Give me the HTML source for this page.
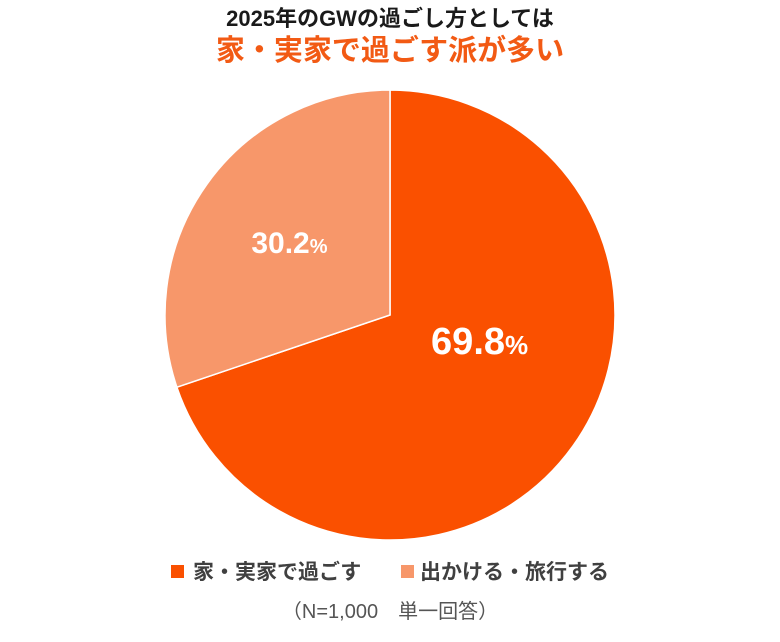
<!DOCTYPE html>
<html><head><meta charset="utf-8"><style>
body{margin:0;background:#fff;width:780px;height:642px;overflow:hidden;font-family:"Liberation Sans","Noto Sans CJK JP",sans-serif}
svg{display:block}
</style></head><body>
<svg width="780" height="642">
<text x="390" y="26" text-anchor="middle" font-size="22" font-weight="bold" fill="#1a1a1a">2025年のGWの過ごし方としては</text>
<text x="390" y="60" text-anchor="middle" font-size="29" font-weight="bold" fill="#F25A14">家・実家で過ごす派が多い</text>
<g id="slices"></g>
<g id="labels"></g>
<rect x="171" y="565" width="13" height="13" fill="#FA5000"/>
<text x="193" y="579" font-size="21" font-weight="bold" fill="#404040">家・実家で過ごす</text>
<rect x="401" y="565" width="13" height="13" fill="#F7976A"/>
<text x="420" y="579" font-size="21" font-weight="bold" fill="#404040">出かける・旅行する</text>
<text x="390" y="618" text-anchor="middle" font-size="20" fill="#555">（N=1,000　単一回答）</text>
</svg>
<script>
const categories=["家・実家で過ごす","出かける・旅行する"];
const values=[69.8,30.2];
const colors=["#FA5000","#F7976A"];
const cx=390,cy=315,r=225;
const ns="http://www.w3.org/2000/svg";
const total=values.reduce((a,b)=>a+b,0);
const slices=document.getElementById('slices'),labels=document.getElementById('labels');
function pt(a,rr){return [cx+rr*Math.sin(a),cy-rr*Math.cos(a)];}
let a0=0;
values.forEach((v,i)=>{
  const a1=a0+v/total*2*Math.PI;
  const p0=pt(a0,r),p1=pt(a1,r);
  const large=(a1-a0)>Math.PI?1:0;
  const p=document.createElementNS(ns,'path');
  p.setAttribute('d',`M${cx},${cy}L${p0[0]},${p0[1]}A${r},${r} 0 ${large} 1 ${p1[0]},${p1[1]}Z`);
  p.setAttribute('fill',colors[i]);
  p.setAttribute('stroke','#fff');
  p.setAttribute('stroke-width','1.5');
  
  
  slices.appendChild(p);
  const mid=(a0+a1)/2;
  const lp=pt(mid,i===0?r*0.49:r*0.55);
  const t=document.createElementNS(ns,'text');
  t.setAttribute('x',lp[0]);t.setAttribute('y',lp[1]+(i===0?-25:10));
  t.setAttribute('text-anchor','middle');t.setAttribute('fill','#fff');t.setAttribute('font-weight','bold');
  t.setAttribute('font-size',i===0?'38':'30');
  
  
  t.innerHTML=v.toFixed(1)+'<tspan font-size="'+(i===0?26:20)+'">%</tspan>';
  labels.appendChild(t);
  a0=a1;
});
</script>
</body></html>
